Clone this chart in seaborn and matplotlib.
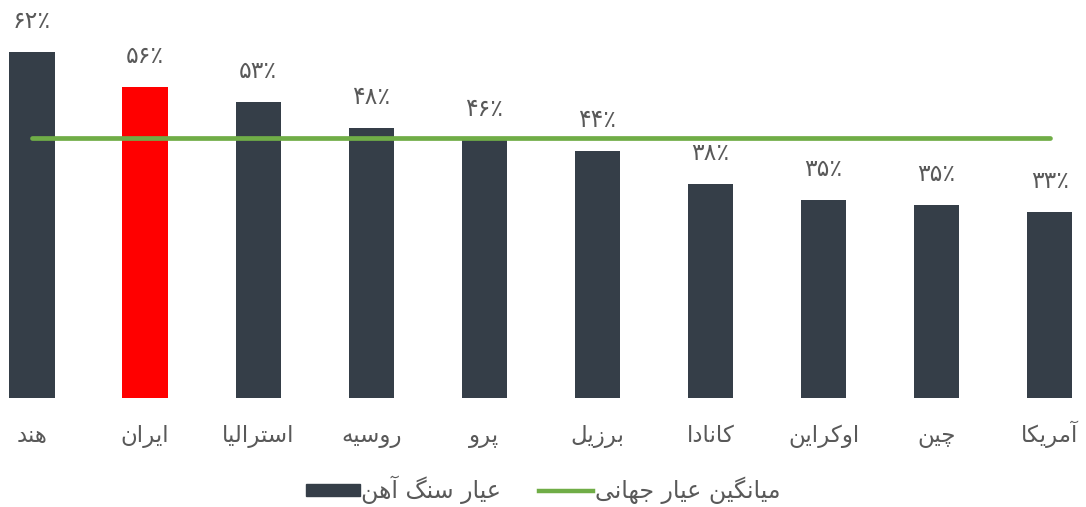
import matplotlib
matplotlib.use("Agg")
import matplotlib.pyplot as plt
import seaborn as sns
from matplotlib.patches import Patch
from matplotlib.lines import Line2D

# data (bar heights, labels are the rounded values)
countries = ["هند", "ایران", "استرالیا", "روسیه", "پرو", "برزیل", "کانادا", "اوکراین", "چین", "آمریکا"]
grades = [62.0, 55.7, 53.0, 48.4, 46.3, 44.2, 38.4, 35.4, 34.6, 33.4]
world_avg = 46.6
highlight = "ایران"
bar_name = "عیار سنگ آهن"
avg_name = "میانگین عیار جهانی"

DARK = "#353e48"
RED = "#ff0000"
GREEN = "#70ad47"
GREY = "#595959"

# minimal Persian shaping (matplotlib has no bidi / joining support)
FORMS = {
    # isolated, final, initial, medial
    "ا": (0xFE8D, 0xFE8E), "آ": (0xFE81, 0xFE82),
    "د": (0xFEA9, 0xFEAA), "ر": (0xFEAD, 0xFEAE), "ز": (0xFEAF, 0xFEB0),
    "و": (0xFEED, 0xFEEE),
    "ب": (0xFE8F, 0xFE90, 0xFE91, 0xFE92), "پ": (0xFB56, 0xFB57, 0xFB58, 0xFB59),
    "ت": (0xFE95, 0xFE96, 0xFE97, 0xFE98), "ج": (0xFE9D, 0xFE9E, 0xFE9F, 0xFEA0),
    "چ": (0xFB7A, 0xFB7B, 0xFB7C, 0xFB7D), "س": (0xFEB1, 0xFEB2, 0xFEB3, 0xFEB4),
    "ع": (0xFEC9, 0xFECA, 0xFECB, 0xFECC), "ک": (0xFB8E, 0xFB8F, 0xFB90, 0xFB91),
    "گ": (0xFB92, 0xFB93, 0xFB94, 0xFB95), "ل": (0xFEDD, 0xFEDE, 0xFEDF, 0xFEE0),
    "م": (0xFEE1, 0xFEE2, 0xFEE3, 0xFEE4), "ن": (0xFEE5, 0xFEE6, 0xFEE7, 0xFEE8),
    "ه": (0xFEE9, 0xFEEA, 0xFEEB, 0xFEEC), "ی": (0xFBFC, 0xFBFD, 0xFBFE, 0xFBFF),
}


def shape(text):
    out = []
    for i, ch in enumerate(text):
        if ch not in FORMS:
            out.append(ch)
            continue
        prev = text[i - 1] if i > 0 else ""
        nxt = text[i + 1] if i + 1 < len(text) else ""
        join_prev = prev in FORMS and len(FORMS[prev]) == 4
        join_next = len(FORMS[ch]) == 4 and nxt in FORMS
        f = FORMS[ch]
        if join_prev and join_next:
            out.append(chr(f[3]))
        elif join_prev:
            out.append(chr(f[1]))
        elif join_next:
            out.append(chr(f[2]))
        else:
            out.append(chr(f[0]))
    return "".join(out)[::-1]


def fa_num(n):
    return "".join("۰۱۲۳۴۵۶۷۸۹"[int(d)] for d in str(round(n))) + "٪"


labels = [shape(c) for c in countries]
colors = [RED if c == highlight else DARK for c in countries]

plt.rcParams["font.family"] = ["DejaVu Sans"]
fig = plt.figure(figsize=(10.86, 5.07), dpi=100)
ax = fig.add_axes([0, 109 / 507, 1, 398 / 507])

sns.barplot(x=labels, y=grades, hue=labels, palette=colors, legend=False,
            width=0.4, saturation=1, ax=ax)
ax.plot([0, len(countries) - 1], [world_avg, world_avg], color=GREEN, lw=3.4,
        solid_capstyle="round", zorder=3)

for i, v in enumerate(grades):
    ax.annotate(fa_num(v), (i, v), xytext=(0, 24), textcoords="offset pixels",
                ha="center", va="baseline", fontsize=17, color=GREY)

ax.set_xlim(-0.283, 9.32)
ax.set_ylim(0, 71.3)
ax.set_yticks([])
ax.tick_params(axis="x", length=0, pad=32, labelsize=16.5, labelcolor=GREY)
for lab in ax.get_xticklabels():
    lab.set_verticalalignment("baseline")
for s in ax.spines.values():
    s.set_visible(False)

handles = [Patch(color=DARK), Line2D([], [], color=GREEN, lw=3.2)]
fig.legend(handles, [shape(bar_name), shape(avg_name)], loc="center",
           bbox_to_anchor=(0.5, 1 - 490 / 507), ncol=2, frameon=False,
           fontsize=17, labelcolor=GREY, handlelength=2.3, handleheight=0.42,
           handletextpad=0.05, columnspacing=1.6)

fig.savefig("out.png", dpi=100)
